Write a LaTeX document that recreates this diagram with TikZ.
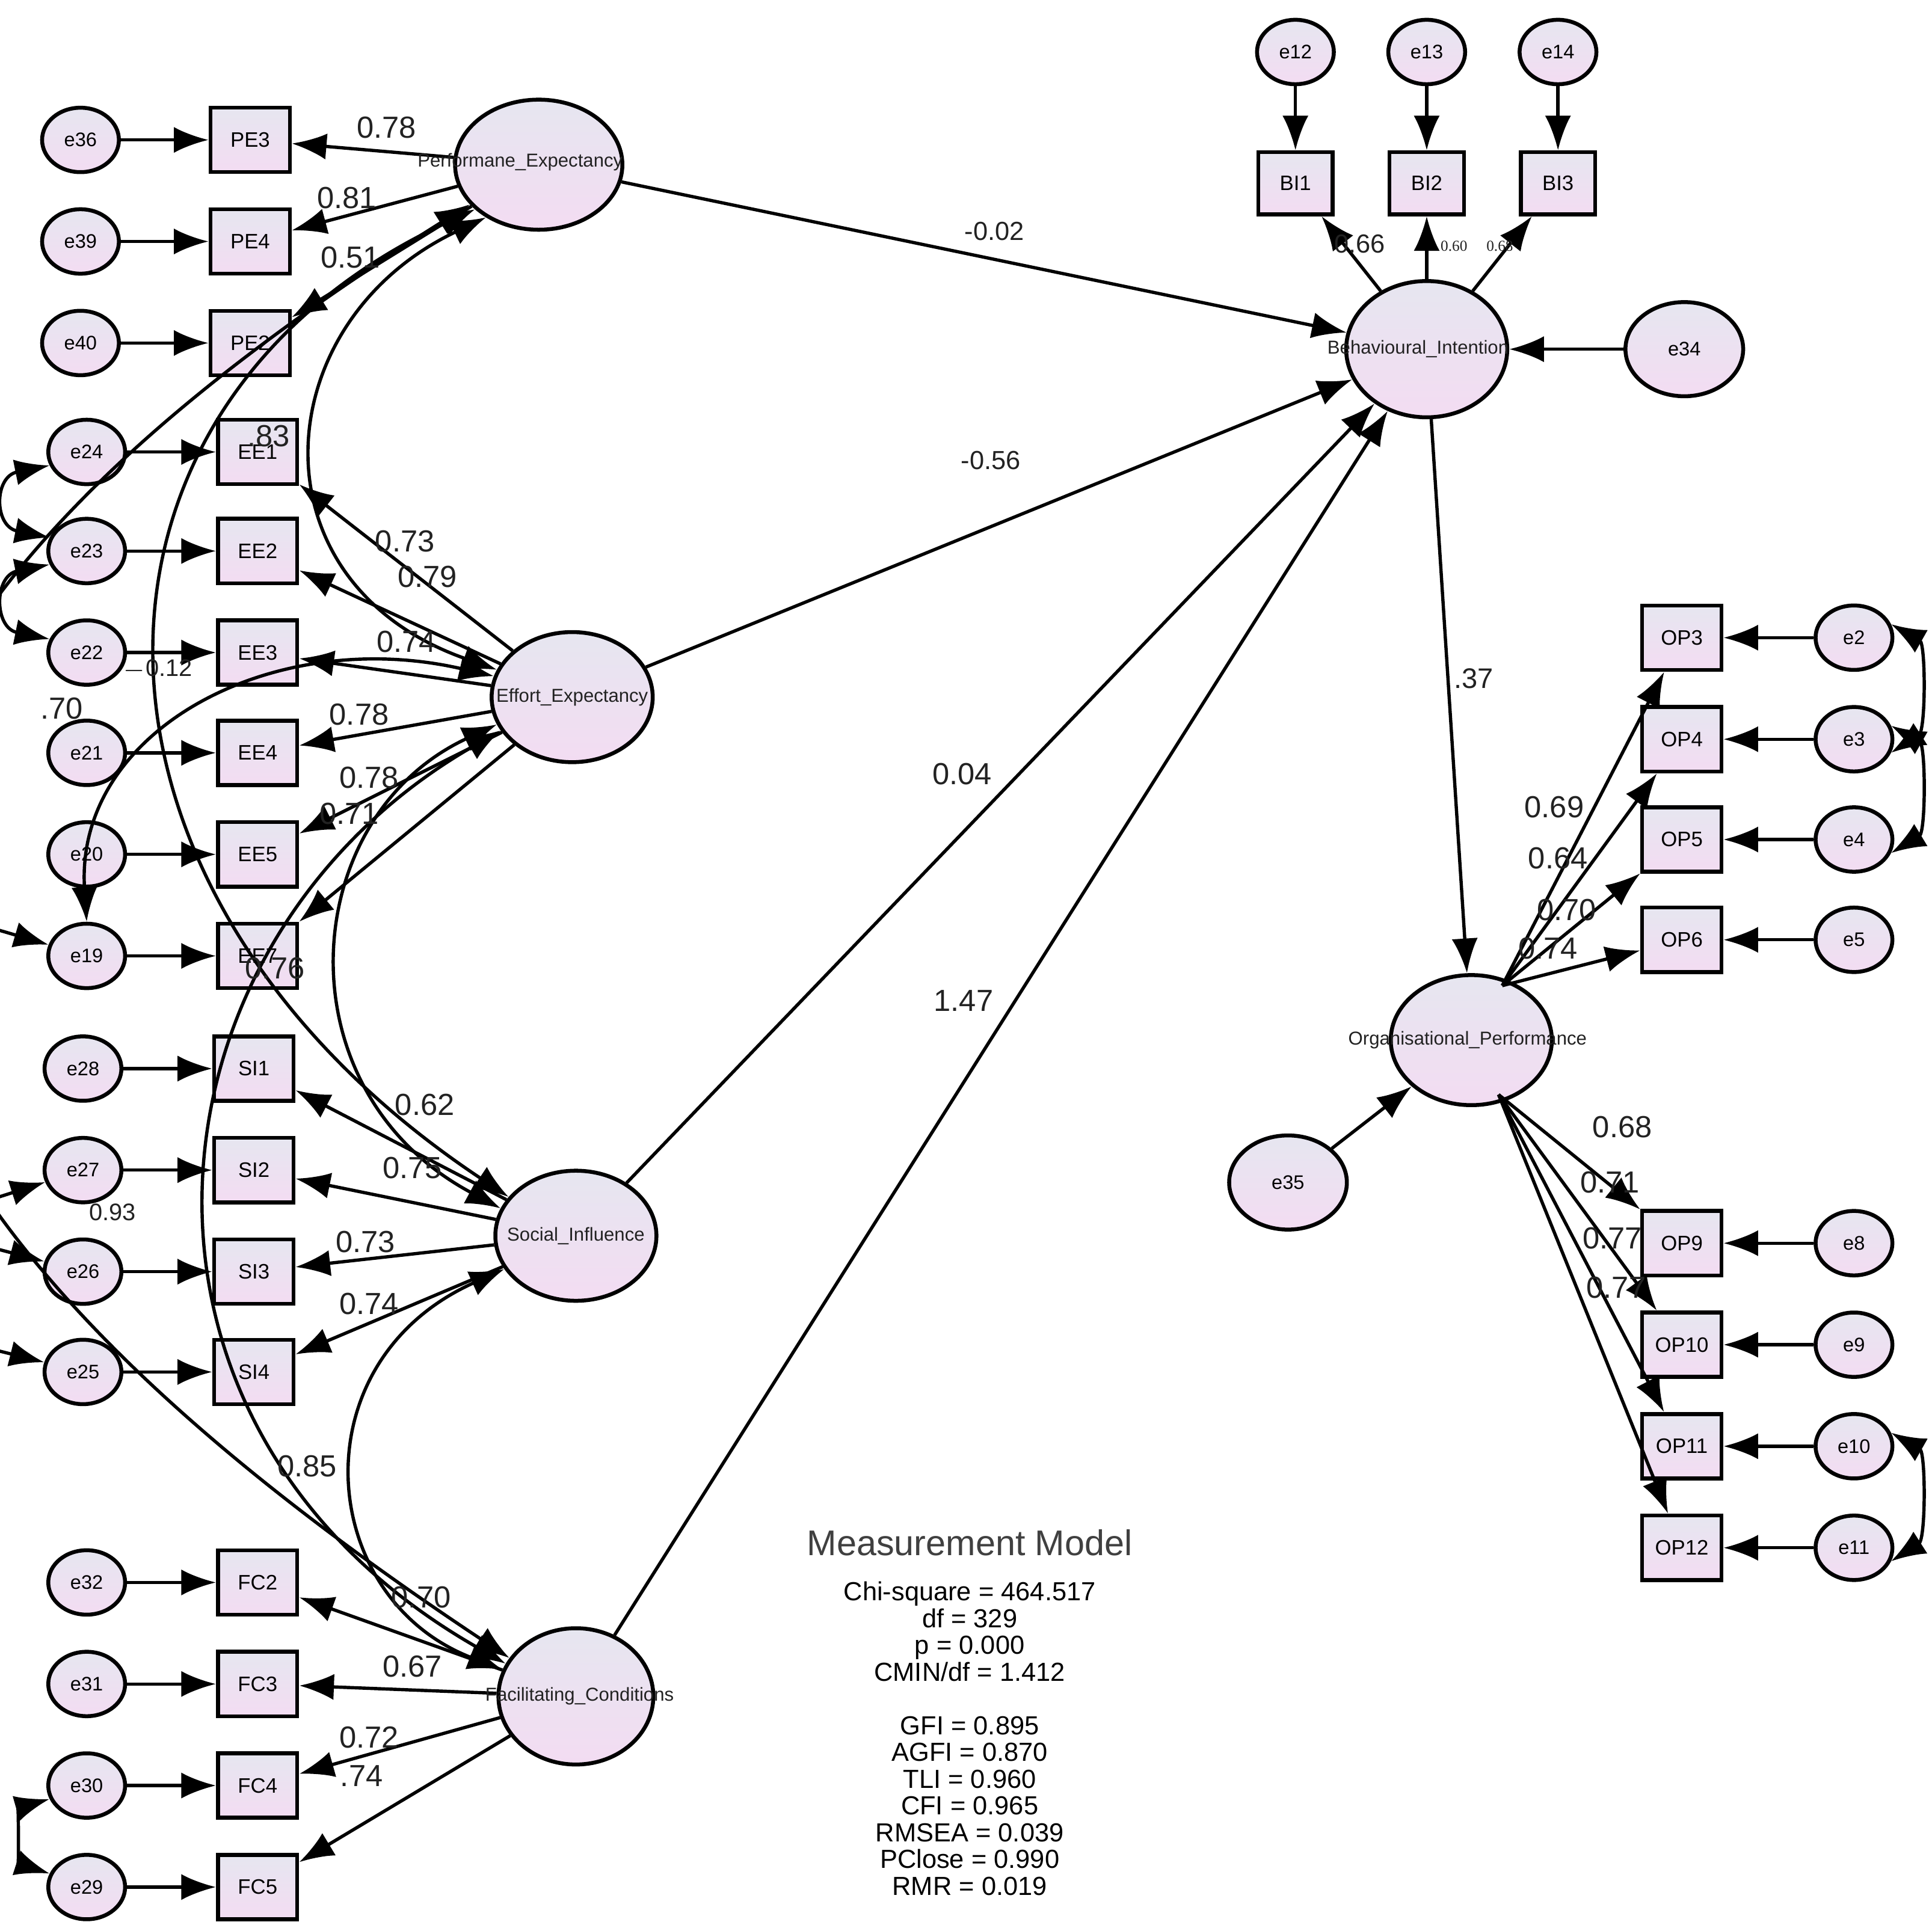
\documentclass[tikz,border=0pt]{standalone}
\usepackage{fontspec}
\setmainfont{Liberation Sans}
\newfontfamily\serifsmall{Liberation Serif}
\usetikzlibrary{arrows.meta,shapes.geometric}
\definecolor{shtop}{HTML}{E6E6F0}
\definecolor{shbot}{HTML}{F3DCF2}
\definecolor{txt}{HTML}{222222}
\begin{document}
\begin{tikzpicture}[x=0.01cm,y=-0.01cm,line width=0.75pt,
  tip/.style={-{Latex[length=2.8mm,width=2.1mm]}},
  both/.style={{Latex[length=2.8mm,width=2.1mm]}-{Latex[length=2.8mm,width=2.1mm]}},
  sh/.style={top color=shtop,bottom color=shbot,draw=black,line width=0.9pt},
  err/.style={sh,ellipse,minimum width=0.62cm,minimum height=0.52cm,inner sep=0,font=\fontsize{4.5}{5}\selectfont},
  bige/.style={sh,ellipse,minimum width=0.95cm,minimum height=0.76cm,inner sep=0,font=\fontsize{4.5}{5}\selectfont},
  item/.style={sh,rectangle,minimum width=0.64cm,minimum height=0.52cm,inner sep=0,font=\fontsize{4.8}{5}\selectfont},
  lat/.style={sh,ellipse,minimum width=1.32cm,minimum height=1.06cm,inner sep=0},
  latlab/.style={font=\fontsize{4.3}{5}\selectfont,inner sep=0,text=txt},
  lab/.style={font=\fontsize{7}{8}\selectfont,inner sep=0,text=txt}]
\clip (0,0) rectangle (1560,1557);
\fill[white] (0,0) rectangle (1560,1557);

% latent variables
\node[lat,minimum width=1.35cm,minimum height=1.05cm] (pe) at (435,133) {};
\node[lat,minimum width=1.30cm,minimum height=1.05cm] (ee) at (462,563) {};
\node[lat,minimum width=1.30cm,minimum height=1.05cm] (si) at (465,998) {};
\node[lat,minimum width=1.25cm,minimum height=1.10cm] (fc) at (465,1370) {};
\node[lat,minimum width=1.30cm,minimum height=1.10cm] (bi) at (1152,282) {};
\node[lat,minimum width=1.30cm,minimum height=1.05cm] (op) at (1188,840) {};

% left indicators
\foreach \e/\i/\y in {e36/PE3/113,e39/PE4/195,e40/PE2/277}{
  \node[err] (\e) at (65,\y) {\e};
  \node[item] (\i) at (202,\y) {\i};
  \draw[tip] (\e) -- (\i);
  \draw[tip] (pe) -- (\i);}
\foreach \e/\i/\y in {e24/EE1/365,e23/EE2/445,e22/EE3/527,e21/EE4/608,e20/EE5/690,e19/EE7/772}{
  \node[err] (\e) at (70,\y) {\e};
  \node[item] (\i) at (208,\y) {\i};
  \draw[tip] (\e) -- (\i);
  \draw[tip] (ee) -- (\i);}
\foreach \e/\i/\y in {e28/SI1/863,e27/SI2/945,e26/SI3/1027,e25/SI4/1108}{
  \node[err] (\e) at (67,\y) {\e};
  \node[item] (\i) at (205,\y) {\i};
  \draw[tip] (\e) -- (\i);
  \draw[tip] (si) -- (\i);}
\foreach \e/\i/\y in {e32/FC2/1278,e31/FC3/1360,e30/FC4/1442,e29/FC5/1524}{
  \node[err] (\e) at (70,\y) {\e};
  \node[item] (\i) at (208,\y) {\i};
  \draw[tip] (\e) -- (\i);
  \draw[tip] (fc) -- (\i);}

% BI indicators
\foreach \e/\i/\x in {e12/BI1/1046,e13/BI2/1152,e14/BI3/1258}{
  \node[err] (\e) at (\x,42) {\e};
  \node[item,minimum width=0.60cm,minimum height=0.50cm] (\i) at (\x,148) {\i};
  \draw[tip] (\e) -- (\i);
  \draw[tip] (bi) -- (\i);}
\node[bige] (e34) at (1360,282) {e34};
\node[bige] (e35) at (1040,955) {e35};
\draw[tip] (e34) -- (bi);
\draw[tip] (e35) -- (op);

% OP indicators
\foreach \e/\i/\y in {e2/OP3/515,e3/OP4/597,e4/OP5/678,e5/OP6/759,e8/OP9/1004,e9/OP10/1086,e10/OP11/1168,e11/OP12/1250}{
  \node[err] (\e) at (1497,\y) {\e};
  \node[item] (\i) at (1358,\y) {\i};
  \draw[tip] (\e) -- (\i);}
\coordinate (opt) at (1213,796);
\coordinate (opb) at (1210,884);
\foreach \i in {OP3,OP4,OP5,OP6}{\draw[tip] (opt) -- (\i);}
\foreach \i in {OP9,OP10,OP11,OP12}{\draw[tip] (opb) -- (\i);}

% structural paths
\draw[tip] (pe) -- (bi);
\draw[tip] (ee) -- (bi);
\draw[tip] (si) -- (bi);
\draw[tip] (fc) -- (bi);
\draw[tip] (bi) -- (op);

% covariances among latent variables
\draw[both] (pe.225) .. controls (215,260) and (200,470) .. (ee.160);
\draw[both] (pe.215) .. controls (40,330) and (40,720) .. (si.150);
\draw[both] (pe.210) .. controls (-250,560) and (-250,900) .. (fc.150);
\draw[both] (ee.200) .. controls (240,660) and (225,880) .. (si.160);
\draw[both] (ee.205) .. controls (110,760) and (70,1150) .. (fc.155);
\draw[both] (si.205) .. controls (240,1100) and (255,1290) .. (fc.160);
\draw[both] (ee.165) .. controls (220,505) and (60,590) .. (e19.north);

% error covariances (partly outside the frame)
\draw[both] (e24.200) .. controls (-5,385) and (-5,425) .. (e23.160);
\draw[both] (e23.200) .. controls (-5,465) and (-5,507) .. (e22.160);
\draw[both] (e30.200) .. controls (15,1460) and (15,1505) .. (e29.160);
\draw[both] (e2.20) .. controls (1555,520) and (1555,590) .. (e3.340);
\draw[both] (e3.20) .. controls (1555,602) and (1555,672) .. (e4.340);
\draw[both] (e10.20) .. controls (1555,1173) and (1555,1243) .. (e11.340);
\coordinate (l19) at (-5,750);
\coordinate (l27) at (-5,968);
\coordinate (l26) at (-5,1008);
\coordinate (l25) at (-5,1090);
\draw[tip] (l19) -- (e19);
\draw[tip] (l27) -- (e27);
\draw[tip] (l26) -- (e26);
\draw[tip] (l25) -- (e25);

% latent labels
\node[latlab] at (420,131) {Performane\_Expectancy};
\node[latlab] at (462,563) {Effort\_Expectancy};
\node[latlab] at (465,998) {Social\_Influence};
\node[latlab] at (468,1370) {Facilitating\_Conditions};
\node[latlab] at (1145,282) {Behavioural\_Intention};
\node[latlab] at (1185,840) {Organisational\_Performance};

% coefficient labels
\node[lab] at (312,103) {0.78};
\node[lab] at (280,160) {0.81};
\node[lab] at (283,208) {0.51};
\node[lab] at (217,352) {.83};
\node[lab] at (327,437) {0.73};
\node[lab] at (345,466) {0.79};
\node[lab] at (328,518) {0.74};
\node[lab,font=\fontsize{5.5}{6}\selectfont] at (127,541) {$-$0.12};
\node[lab] at (50,572) {.70};
\node[lab] at (290,577) {0.78};
\node[lab] at (298,628) {0.78};
\node[lab] at (282,657) {0.71};
\node[lab] at (222,782) {0.76};
\node[lab] at (343,892) {0.62};
\node[lab] at (333,943) {0.75};
\node[lab,font=\fontsize{5.5}{6}\selectfont] at (91,979) {0.93};
\node[lab] at (295,1003) {0.73};
\node[lab] at (298,1053) {0.74};
\node[lab] at (248,1184) {0.85};
\node[lab] at (340,1290) {0.70};
\node[lab] at (333,1346) {0.67};
\node[lab] at (298,1403) {0.72};
\node[lab] at (292,1434) {.74};
\node[lab,font=\fontsize{6}{7}\selectfont] at (803,187) {-0.02};
\node[lab,font=\fontsize{6}{7}\selectfont] at (800,372) {-0.56};
\node[lab] at (777,625) {0.04};
\node[lab] at (778,808) {1.47};
\node[lab,font=\fontsize{6}{7}\selectfont] at (1098,197) {0.66};
\node[lab,font=\serifsmall\fontsize{3.5}{4}\selectfont] at (1174,199) {0.60};
\node[lab,font=\serifsmall\fontsize{3.5}{4}\selectfont] at (1211,199) {0.68};
\node[lab,font=\fontsize{6.5}{7}\selectfont] at (1190,548) {.37};
\node[lab] at (1255,652) {0.69};
\node[lab] at (1258,693) {0.64};
\node[lab] at (1265,735) {0.70};
\node[lab] at (1250,766) {0.74};
\node[lab] at (1310,910) {0.68};
\node[lab] at (1300,955) {0.71};
\node[lab] at (1302,1000) {0.77};
\node[lab] at (1305,1040) {0.77};

% fit statistics
\node[lab,font=\fontsize{8.2}{9}\selectfont,text=black!75] (title) at (783,1246) {Measurement Model};
\node[inner sep=0,align=center,anchor=north,font=\fontsize{6}{6.15}\selectfont] (stats) at (783,1276) {Chi-square = 464.517\\ df = 329\\ p = 0.000\\ CMIN/df = 1.412\\[6.15pt] GFI = 0.895\\ AGFI = 0.870\\ TLI = 0.960\\ CFI = 0.965\\ RMSEA = 0.039\\ PClose = 0.990\\ RMR = 0.019};
\end{tikzpicture}
\end{document}
